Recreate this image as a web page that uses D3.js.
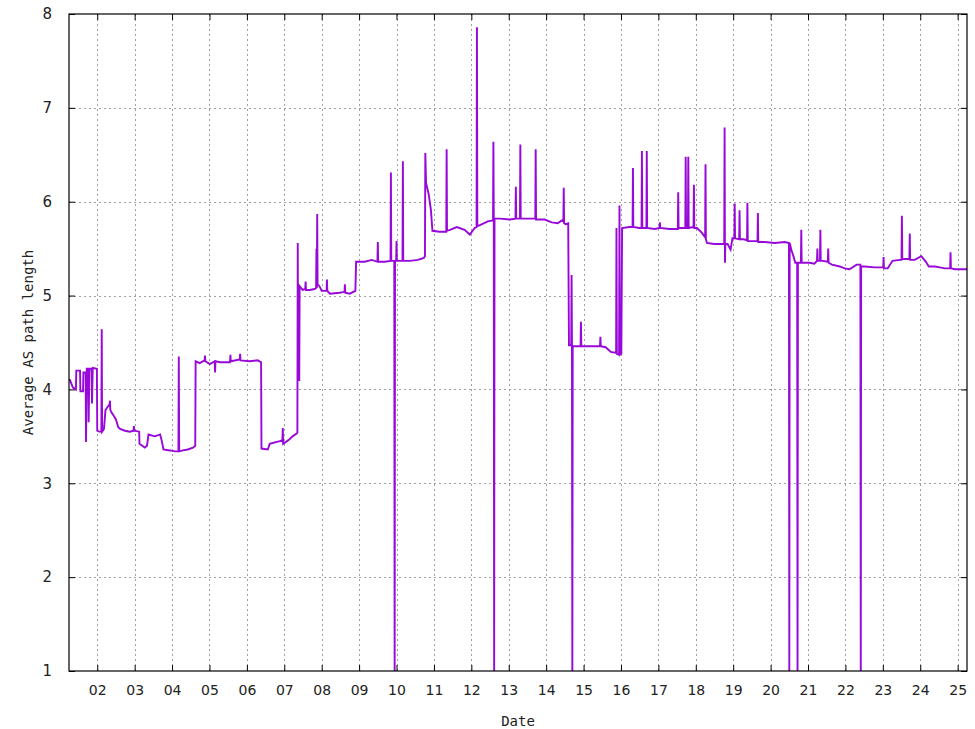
<!DOCTYPE html>
<html>
<head>
<meta charset="utf-8">
<script src="https://cdn.jsdelivr.net/npm/d3@7"></script>
<style>
  body { margin: 0; background: #fff; }
  svg { display: block; }
</style>
</head>
<body>
<svg id="chart"></svg>
<script>
"use strict";

// x tick days and y ticks
const xTickDays = d3.range(2, 26);
const yTicks = [1, 2, 3, 4, 5, 6, 7, 8];
const dayRange = [1.245, 25.25];

// [day of month (fractional), average AS path length]
const samples = [
    [1.245, 4.10], [1.27, 4.10], [1.35, 4.02], [1.43, 4.00], [1.44, 4.20], [1.54, 4.20],
    [1.55, 3.98], [1.62, 3.98], [1.63, 4.18], [1.69, 4.18], [1.70, 3.44], [1.72, 4.22],
    [1.76, 4.22], [1.77, 3.65], [1.79, 4.22], [1.85, 4.22], [1.86, 3.85], [1.88, 4.23],
    [1.99, 4.22], [2.00, 3.56], [2.05, 3.55], [2.11, 3.55], [2.12, 4.64], [2.13, 3.55],
    [2.18, 3.58], [2.22, 3.78], [2.29, 3.82], [2.33, 3.84], [2.34, 3.88], [2.35, 3.78],
    [2.39, 3.75], [2.44, 3.72], [2.50, 3.68], [2.56, 3.60], [2.61, 3.58], [2.74, 3.56],
    [2.87, 3.55], [2.97, 3.56], [2.98, 3.61], [2.99, 3.56], [3.12, 3.55], [3.13, 3.42],
    [3.27, 3.38], [3.33, 3.40], [3.37, 3.52], [3.54, 3.50], [3.68, 3.52], [3.72, 3.46],
    [3.77, 3.36], [3.94, 3.35], [4.08, 3.34], [4.17, 3.34], [4.18, 4.35], [4.19, 3.34],
    [4.29, 3.35], [4.42, 3.36], [4.56, 3.38], [4.62, 3.40], [4.63, 4.30], [4.74, 4.28],
    [4.87, 4.31], [4.88, 4.36], [4.89, 4.30], [5.01, 4.27], [5.14, 4.30], [5.15, 4.18],
    [5.16, 4.30], [5.28, 4.29], [5.55, 4.29], [5.56, 4.37], [5.57, 4.30], [5.81, 4.32],
    [5.82, 4.38], [5.83, 4.31], [6.08, 4.30], [6.29, 4.31], [6.38, 4.29], [6.39, 3.37],
    [6.56, 3.36], [6.61, 3.42], [6.88, 3.45], [6.95, 3.46], [6.96, 3.59], [6.97, 3.42],
    [7.14, 3.47], [7.22, 3.50], [7.33, 3.53], [7.35, 3.54], [7.36, 5.56], [7.37, 4.10],
    [7.40, 4.10], [7.41, 5.10], [7.49, 5.06], [7.56, 5.07], [7.57, 5.15], [7.58, 5.06],
    [7.68, 5.06], [7.81, 5.07], [7.85, 5.08], [7.86, 5.50], [7.87, 5.08], [7.88, 5.87],
    [7.89, 5.12], [7.94, 5.10], [8.00, 5.05], [8.13, 5.05], [8.14, 5.17], [8.15, 5.05],
    [8.22, 5.02], [8.48, 5.03], [8.61, 5.04], [8.62, 5.12], [8.63, 5.03], [8.75, 5.02],
    [8.90, 5.05], [8.92, 5.36], [9.15, 5.36], [9.34, 5.38], [9.49, 5.36], [9.50, 5.57],
    [9.51, 5.36], [9.68, 5.36], [9.84, 5.37], [9.85, 6.31], [9.86, 5.37], [9.94, 5.37],
    [9.95, 1.00], [9.96, 5.37], [9.99, 5.37], [10.00, 5.58], [10.01, 5.37], [10.16, 5.37],
    [10.17, 6.43], [10.18, 5.37], [10.36, 5.37], [10.57, 5.38], [10.73, 5.40], [10.76, 5.42],
    [10.77, 6.52], [10.79, 6.20], [10.86, 6.08], [10.92, 5.91], [10.96, 5.69], [11.15, 5.68],
    [11.33, 5.68], [11.34, 6.56], [11.35, 5.69], [11.43, 5.70], [11.61, 5.73], [11.82, 5.70],
    [11.96, 5.65], [12.09, 5.72], [12.14, 5.73], [12.15, 7.86], [12.16, 5.74], [12.23, 5.75],
    [12.44, 5.79], [12.58, 5.80], [12.59, 6.64], [12.60, 5.80], [12.61, 1.00], [12.62, 5.82],
    [12.76, 5.82], [13.03, 5.81], [13.18, 5.82], [13.19, 6.16], [13.20, 5.82], [13.30, 5.82],
    [13.31, 6.61], [13.32, 5.82], [13.56, 5.82], [13.71, 5.82], [13.72, 6.56], [13.73, 5.81],
    [13.96, 5.81], [14.15, 5.78], [14.31, 5.77], [14.42, 5.80], [14.46, 5.79], [14.47, 6.15],
    [14.48, 5.77], [14.52, 5.76], [14.59, 5.77], [14.61, 4.47], [14.67, 4.47], [14.68, 5.22],
    [14.69, 4.46], [14.70, 1.00], [14.71, 4.46], [14.77, 4.46], [14.92, 4.46], [14.93, 4.72],
    [14.94, 4.46], [15.17, 4.46], [15.44, 4.46], [15.45, 4.56], [15.46, 4.46], [15.59, 4.45],
    [15.73, 4.40], [15.87, 4.39], [15.88, 5.72], [15.89, 4.38], [15.95, 4.37], [15.96, 5.96],
    [15.97, 4.37], [16.01, 4.38], [16.03, 5.72], [16.23, 5.73], [16.31, 5.73], [16.32, 6.36],
    [16.33, 5.73], [16.49, 5.72], [16.55, 5.72], [16.56, 6.54], [16.57, 5.72], [16.68, 5.72],
    [16.69, 6.54], [16.70, 5.72], [16.90, 5.71], [17.03, 5.72], [17.04, 5.78], [17.05, 5.72],
    [17.30, 5.71], [17.52, 5.71], [17.53, 6.10], [17.54, 5.72], [17.72, 5.72], [17.73, 6.48],
    [17.74, 5.72], [17.79, 5.72], [17.80, 6.48], [17.81, 5.72], [17.94, 5.73], [17.95, 6.18],
    [17.96, 5.72], [18.03, 5.72], [18.16, 5.67], [18.25, 5.62], [18.26, 6.40], [18.27, 5.60],
    [18.30, 5.56], [18.49, 5.55], [18.76, 5.55], [18.77, 6.79], [18.78, 5.35], [18.79, 5.55],
    [18.85, 5.55], [18.93, 5.49], [18.98, 5.61], [19.03, 5.61], [19.04, 5.98], [19.05, 5.61],
    [19.16, 5.60], [19.17, 5.91], [19.18, 5.60], [19.28, 5.60], [19.37, 5.59], [19.38, 5.99],
    [19.39, 5.58], [19.50, 5.58], [19.65, 5.58], [19.66, 5.88], [19.67, 5.57], [19.84, 5.57],
    [20.11, 5.56], [20.38, 5.57], [20.49, 5.56], [20.50, 1.00], [20.51, 5.56], [20.56, 5.48],
    [20.61, 5.42], [20.66, 5.35], [20.71, 5.35], [20.72, 1.00], [20.73, 5.35], [20.81, 5.35],
    [20.82, 5.70], [20.83, 5.35], [21.04, 5.35], [21.17, 5.34], [21.24, 5.37], [21.25, 5.50],
    [21.26, 5.37], [21.32, 5.37], [21.33, 5.70], [21.34, 5.37], [21.39, 5.37], [21.53, 5.36],
    [21.54, 5.50], [21.55, 5.35], [21.64, 5.33], [21.85, 5.31], [21.98, 5.29], [22.11, 5.28],
    [22.30, 5.33], [22.40, 5.33], [22.41, 1.00], [22.42, 5.31], [22.51, 5.31], [22.78, 5.30],
    [23.01, 5.30], [23.02, 5.41], [23.03, 5.29], [23.13, 5.29], [23.26, 5.37], [23.45, 5.38],
    [23.50, 5.38], [23.51, 5.85], [23.52, 5.39], [23.71, 5.39], [23.72, 5.66], [23.73, 5.38],
    [23.85, 5.38], [24.03, 5.42], [24.15, 5.36], [24.23, 5.31], [24.39, 5.31], [24.52, 5.30],
    [24.66, 5.29], [24.80, 5.29], [24.81, 5.46], [24.82, 5.29], [24.93, 5.28], [25.25, 5.28]
];

const width = 975;
const height = 729;
const marginTop = 14;
const marginRight = 8;
const marginBottom = 58;
const marginLeft = 69;
const tickLen = 6;

const svg = d3.select("#chart")
    .attr("width", width)
    .attr("height", height)
    .attr("viewBox", [0, 0, width, height]);

const x = d3.scaleLinear()
    .domain(dayRange)
    .range([marginLeft, width - marginRight]);

const y = d3.scaleLinear()
    .domain([1, 8])
    .range([height - marginBottom, marginTop]);

// grid
const grid = svg.append("g")
    .attr("stroke", "#a0a0a0")
    .attr("stroke-width", 1)
    .attr("stroke-dasharray", "2,3")
    .attr("shape-rendering", "crispEdges");

grid.selectAll(".vgrid")
    .data(xTickDays)
    .join("line")
    .attr("class", "vgrid")
    .attr("x1", d => Math.round(x(d)) + 0.5)
    .attr("x2", d => Math.round(x(d)) + 0.5)
    .attr("y1", y(1))
    .attr("y2", y(8));

grid.selectAll(".hgrid")
    .data(yTicks.slice(1, -1))
    .join("line")
    .attr("class", "hgrid")
    .attr("x1", x(dayRange[0]))
    .attr("x2", x(dayRange[1]))
    .attr("y1", d => Math.round(y(d)) + 0.5)
    .attr("y2", d => Math.round(y(d)) + 0.5);

// axes: ticks pointing inwards, mirrored on the opposite side
const tickFont = "'DejaVu Sans', sans-serif";

svg.append("g")
    .attr("transform", `translate(0,${height - marginBottom})`)
    .call(d3.axisBottom(x).tickValues(xTickDays).tickFormat(d3.format("02d"))
        .tickSizeInner(-tickLen).tickSizeOuter(0).tickPadding(14))
    .call(g => g.select(".domain").remove())
    .call(g => g.selectAll("text").attr("font-family", tickFont).attr("font-size", 14).attr("fill", "#222"))
    .call(g => g.selectAll(".tick line").attr("stroke", "#000"));

svg.append("g")
    .attr("transform", `translate(0,${marginTop})`)
    .call(d3.axisTop(x).tickValues(xTickDays).tickFormat("")
        .tickSizeInner(-tickLen).tickSizeOuter(0))
    .call(g => g.select(".domain").remove())
    .call(g => g.selectAll(".tick line").attr("stroke", "#000"));

svg.append("g")
    .attr("transform", `translate(${marginLeft},0)`)
    .call(d3.axisLeft(y).tickValues(yTicks).tickFormat(d3.format("d"))
        .tickSizeInner(-tickLen).tickSizeOuter(0).tickPadding(17))
    .call(g => g.select(".domain").remove())
    .call(g => g.selectAll("text").attr("font-family", tickFont).attr("font-size", 15).attr("fill", "#222"))
    .call(g => g.selectAll(".tick line").attr("stroke", "#000"));

svg.append("g")
    .attr("transform", `translate(${width - marginRight},0)`)
    .call(d3.axisRight(y).tickValues(yTicks).tickFormat("")
        .tickSizeInner(-tickLen).tickSizeOuter(0))
    .call(g => g.select(".domain").remove())
    .call(g => g.selectAll(".tick line").attr("stroke", "#000"));

// the series
const line = d3.line()
    .x(d => x(d[0]))
    .y(d => y(d[1]));

svg.append("path")
    .datum(samples)
    .attr("fill", "none")
    .attr("stroke", "#9808d8")
    .attr("stroke-width", 1.9)
    .attr("stroke-linejoin", "miter")
    .attr("d", line);

// frame
svg.append("rect")
    .attr("x", x(dayRange[0]))
    .attr("y", y(8))
    .attr("width", x(dayRange[1]) - x(dayRange[0]))
    .attr("height", y(1) - y(8))
    .attr("fill", "none")
    .attr("stroke", "#000")
    .attr("stroke-width", 1.2);

// axis titles
svg.append("text")
    .attr("x", (x(dayRange[0]) + x(dayRange[1])) / 2)
    .attr("y", 726)
    .attr("text-anchor", "middle")
    .attr("font-family", "'DejaVu Sans Mono', monospace")
    .attr("font-size", 14)
    .attr("fill", "#222")
    .text("Date");

svg.append("text")
    .attr("transform", `translate(33,${(y(1) + y(8)) / 2}) rotate(-90)`)
    .attr("text-anchor", "middle")
    .attr("font-family", "'DejaVu Sans Mono', monospace")
    .attr("font-size", 14)
    .attr("fill", "#222")
    .text("Average AS path length");
</script>
</body>
</html>
